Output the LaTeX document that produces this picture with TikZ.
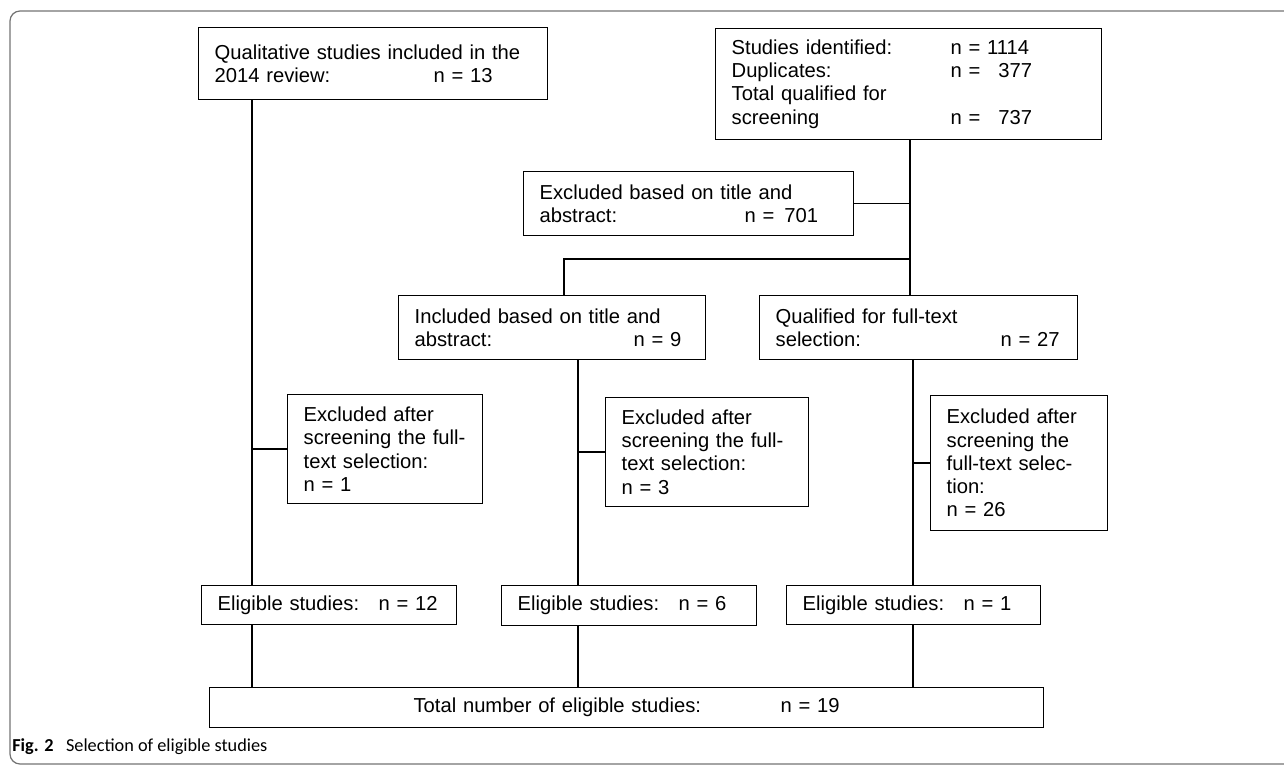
\documentclass[tikz,border=0pt]{standalone}
\usepackage{fontspec}
\setmainfont{Liberation Sans}
\newfontfamily\capfont{Carlito}
\usepackage{tikz}
\usetikzlibrary{calc,positioning}

\begin{document}
\begin{tikzpicture}[x=0.02cm,y=-0.02cm,
	flowbox/.style={draw,line width=0.75pt,anchor=north west,inner xsep=0.32cm,inner ysep=0pt,align=left,font=\fontsize{11.5}{13.2}\selectfont},
	link/.style={line width=0.75pt}]
	\useasboundingbox (0,0) rectangle (1284,766);
	% frame of the figure
	\draw[line width=0.7pt,black!55,rounded corners=0.2cm] (10,11) rectangle (1310,764);
	% boxes
	\node[flowbox,text width=6.34cm,minimum height=1.44cm] (studies14) at (198,27)
		{Qualitative studies included in the\\ \makebox[4.38cm][l]{2014 review:}n~=~13};
	\node[flowbox,text width=7.08cm,minimum height=2.22cm] (identified) at (715,28)
		{\makebox[4.38cm][l]{Studies identified:}n~=~1114\\
		 \makebox[4.38cm][l]{Duplicates:}n~=~\hphantom{1}377\\
		 Total qualified for\\
		 \makebox[4.38cm][l]{screening}n~=~\hphantom{1}737};
	\node[flowbox,text width=5.96cm,minimum height=1.28cm] (exclabs) at (523,171)
		{Excluded based on title and\\ \makebox[4.1cm][l]{abstract:}n~=~\,701};
	\node[flowbox,text width=5.5cm,minimum height=1.28cm] (inclabs) at (398,295)
		{Included based on title and\\ \makebox[4.38cm][l]{abstract:}n~=~9};
	\node[flowbox,text width=5.72cm,minimum height=1.28cm] (fulltext) at (759,295)
		{Qualified for full-text\\ \makebox[4.5cm][l]{selection:}n~=~27};
	\node[flowbox,text width=3.26cm,minimum height=2.18cm] (exclA) at (287,394)
		{Excluded after\\ screening the full-\\ text selection:\\ n~=~1};
	\node[flowbox,text width=3.42cm,minimum height=2.18cm] (exclB) at (605,397)
		{Excluded after\\ screening the full-\\ text selection:\\ n~=~3};
	\node[flowbox,text width=2.9cm,minimum height=2.7cm] (exclC) at (930,395)
		{Excluded after\\ screening the\\ full-text selec-\\ tion:\\ n~=~26};
	\node[flowbox,text width=4.46cm,minimum height=0.78cm] (eligA) at (201,585)
		{\makebox[3.22cm][l]{Eligible studies:}n~=~12};
	\node[flowbox,text width=4.46cm,minimum height=0.8cm] (eligB) at (501,585)
		{\makebox[3.22cm][l]{Eligible studies:}n~=~6};
	\node[flowbox,text width=4.44cm,minimum height=0.78cm] (eligC) at (786,585)
		{\makebox[3.22cm][l]{Eligible studies:}n~=~1};
	\node[flowbox,text width=16.04cm,minimum height=0.8cm,align=center] (total) at (209,687)
		{\makebox[7.34cm][l]{Total number of eligible studies:}n~=~19};
	% trunks
	\coordinate (ltrunk) at (252,0);
	\coordinate (mtop) at (564,0);
	\coordinate (mtrunk) at (578,0);
	\coordinate (rtrunk) at (910,0);
	\coordinate (rlow) at (913,0);
	\coordinate (split) at (910,259);
	% connectors
	\draw[link] (studies14.south -| ltrunk) -- (eligA.north -| ltrunk);
	\draw[link] (exclA.west) -- (exclA.west -| ltrunk);
	\draw[link] (eligA.south -| ltrunk) -- (total.north -| ltrunk);
	\draw[link] (identified.south -| rtrunk) -- (fulltext.north -| rtrunk);
	\draw[link] (exclabs.east) -- (exclabs.east -| rtrunk);
	\draw[link] (split) -| (inclabs.north -| mtop);
	\draw[link] (inclabs.south -| mtrunk) -- (eligB.north -| mtrunk);
	\draw[link] (exclB.west) -- (exclB.west -| mtrunk);
	\draw[link] (eligB.south -| mtrunk) -- (total.north -| mtrunk);
	\draw[link] (fulltext.south -| rlow) -- (eligC.north -| rlow);
	\draw[link] (exclC.west) -- (exclC.west -| rlow);
	\draw[link] (eligC.south -| rlow) -- (total.north -| rlow);
	% caption
	\node[anchor=west,inner sep=0pt,font=\capfont\fontsize{10.4}{12}\selectfont] (caption) at (12,747)
		{\textbf{Fig. 2}\hspace{0.25cm}Selection of eligible studies};
\end{tikzpicture}
\end{document}
